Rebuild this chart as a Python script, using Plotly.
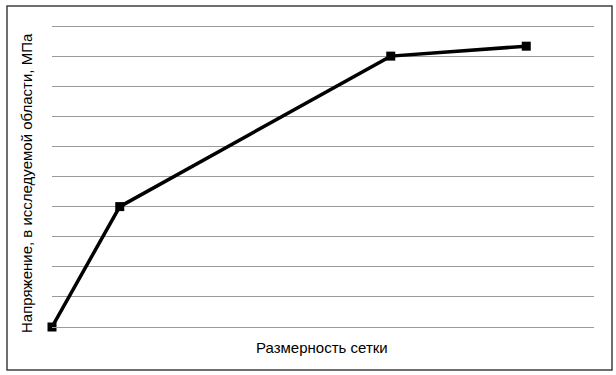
import plotly.graph_objects as go

mesh_size = [0, 1, 5, 7]
stress = [0, 4, 9, 9.33]
x_title = "Размерность сетки"
y_title = "Напряжение, в исследуемой области, МПа"

L, R, T, B = 52, 22, 23, 48
W, H = 616, 375
pw, ph = W - L - R, H - T - B

def px(x):
    return (x - L) / pw

def py(y):
    return (H - B - y) / ph

fig = go.Figure()
fig.add_trace(go.Scatter(
    x=mesh_size, y=stress, mode="lines+markers",
    line=dict(color="black", width=3.5),
    marker=dict(symbol="square", size=9, color="black"),
    showlegend=False, cliponaxis=False,
))

fig.update_layout(
    width=W, height=H,
    margin=dict(l=L, r=R, t=T, b=B, pad=0),
    paper_bgcolor="white", plot_bgcolor="white",
    font=dict(family="Liberation Sans, Arial", size=15, color="black"),
    xaxis=dict(range=[0, 8], showgrid=False, showticklabels=False, ticks="",
               zeroline=False, showline=True, linecolor="#9a9a9a", linewidth=1),
    yaxis=dict(range=[0, 10.1], tick0=0, dtick=1, showgrid=True, gridcolor="#9a9a9a", gridwidth=1,
               showticklabels=False, ticks="", zeroline=False, showline=False),
    shapes=[dict(type="rect", xref="paper", yref="paper",
                 x0=px(7), x1=px(612), y0=py(370), y1=py(6),
                 line=dict(color="#404040", width=1.5), fillcolor="rgba(0,0,0,0)", layer="below")],
    annotations=[
        dict(text=x_title, xref="paper", yref="paper", x=px(322), y=py(347),
             showarrow=False, xanchor="center", yanchor="middle"),
        dict(text=y_title, xref="paper", yref="paper", x=px(26), y=py(183),
             showarrow=False, xanchor="center", yanchor="middle", textangle=-90),
    ],
)

fig.write_html("out.html")
